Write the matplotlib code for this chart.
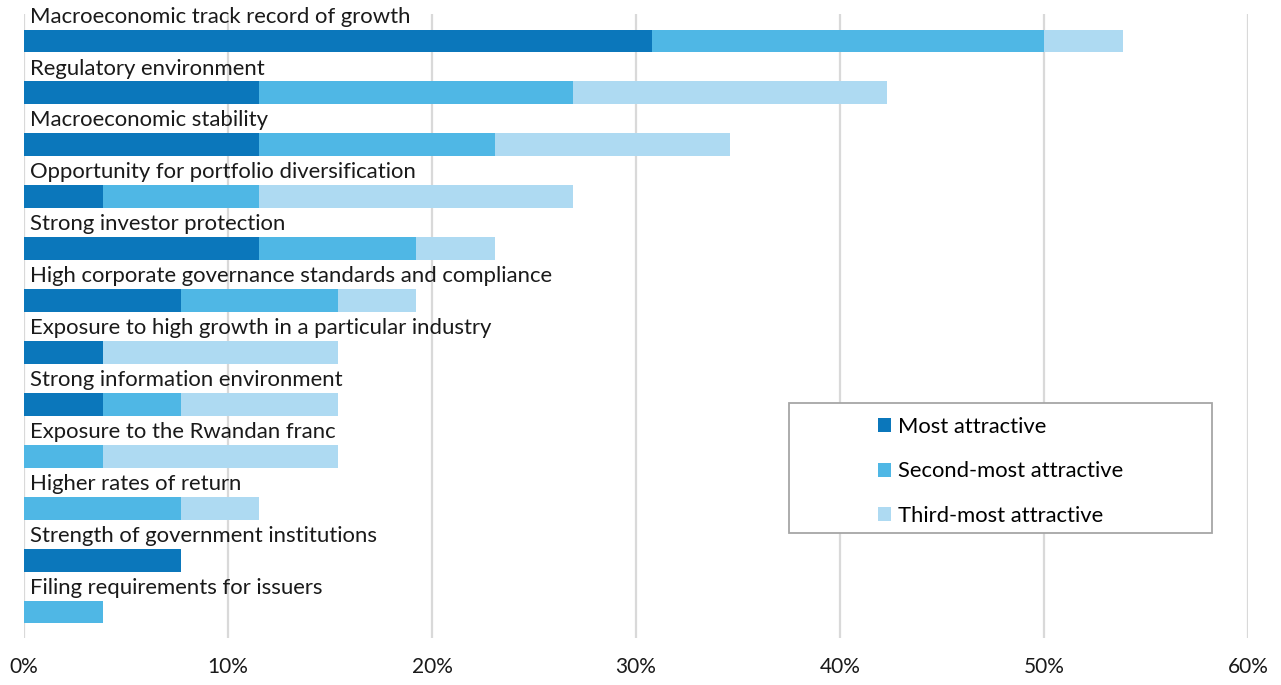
import numpy as np
import matplotlib
matplotlib.use("Agg")
from matplotlib import pyplot as plt
from matplotlib.patches import Rectangle

plt.rcParams['font.family'] = ['Lato', 'DejaVu Sans']

# categories, top to bottom
factors = ["Macroeconomic track record of growth",
           "Regulatory environment",
           "Macroeconomic stability",
           "Opportunity for portfolio diversification",
           "Strong investor protection",
           "High corporate governance standards and compliance",
           "Exposure to high growth in a particular industry",
           "Strong information environment",
           "Exposure to the Rwandan franc",
           "Higher rates of return",
           "Strength of government institutions",
           "Filing requirements for issuers"]

# share of respondents (%)
most = [30.77, 11.54, 11.54, 3.85, 11.54, 7.69, 3.85, 3.85, 0, 0, 7.69, 0]
second = [19.23, 15.38, 11.54, 7.69, 7.69, 7.69, 0, 3.85, 3.85, 7.69, 0, 3.85]
third = [3.85, 15.38, 11.54, 15.38, 3.85, 3.85, 11.54, 7.69, 11.54, 3.85, 0, 0]

series_names = ["Most attractive", "Second-most attractive", "Third-most attractive"]
colors = ["#0b77bb", "#4fb7e5", "#aedaf2"]

fig = plt.figure(figsize=(12.81, 6.85), dpi=100)
ax = fig.add_axes([24 / 1281, 47 / 685, 1224 / 1281, 624 / 685])

y = np.arange(len(factors))
left = np.zeros(len(factors))
for vals, name, c in zip([most, second, third], series_names, colors):
    vals = np.array(vals)
    ax.barh(y, vals, left=left, height=0.44, color=c, label=name, zorder=3)
    left = left + vals

# category labels above each bar
for i, f in enumerate(factors):
    ax.text(0.3, i - 0.47, f, fontsize=15.9, va='center', ha='left', color='#1a1a1a', zorder=4)

ax.set_xlim(0, 60)
ax.set_ylim(11.5, -0.52)
ax.set_xticks(np.arange(0, 61, 10))
ax.set_xticklabels([f"{t}%" for t in range(0, 61, 10)], fontsize=15, color='#1a1a1a')
ax.set_yticks([])
ax.tick_params(axis='x', length=0, pad=14)
ax.grid(axis='x', color='#d9d9d9', linewidth=1.6, zorder=0)
for s in ax.spines.values():
    s.set_visible(False)

# legend box
x0 = (789 - 24) / 1224
y0 = (638 - 533) / 624
ax.add_patch(Rectangle((x0, y0), (1212 - 789) / 1224, 130 / 624, transform=ax.transAxes,
                       facecolor='white', edgecolor='#a6a6a6', linewidth=1.3, zorder=5))
leg = ax.legend(loc='upper left', bbox_to_anchor=((867 - 24) / 1224, (638 - 406) / 624),
                frameon=False, fontsize=15.8, handlelength=0.6, handleheight=0.6,
                handletextpad=0.3, labelspacing=1.11, borderpad=0)
leg.set_zorder(6)

fig.savefig("out.png", dpi=100)
